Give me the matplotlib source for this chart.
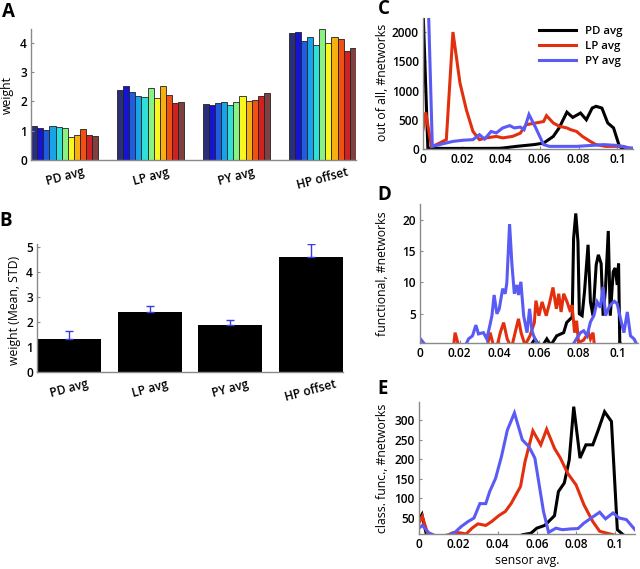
import matplotlib
matplotlib.use("Agg")
import matplotlib.pyplot as plt
import numpy as np

plt.rcParams['font.family'] = ['Open Sans', 'DejaVu Sans']

# ---------------- data ----------------
groups = ["PD avg", "LP avg", "PY avg", "HP offset"]
A_PD = [1.15, 1.09, 1.02, 1.16, 1.13, 1.09, 0.80, 0.85, 1.05, 0.84, 0.82]
A_LP = [2.40, 2.51, 2.31, 2.18, 2.15, 2.46, 2.10, 2.51, 2.22, 1.93, 1.97]
A_PY = [1.92, 1.87, 1.94, 1.96, 1.87, 1.99, 2.19, 2.01, 2.03, 2.18, 2.27]
A_HP = [4.33, 4.37, 4.06, 4.19, 3.93, 4.47, 3.98, 4.20, 4.13, 3.70, 3.81]
bar_colors = ['#2b2f7a', '#1414d2', '#1e5ce0', '#18a2e8', '#30e0d8', '#8af283',
              '#f8f820', '#f8b010', '#f05010', '#d02020', '#804040']

B_mean = [1.32, 2.40, 1.88, 4.60]
B_std = [0.33, 0.24, 0.20, 0.50]

C_PD_x = [0, 0.0025, 0.01, 0.02, 0.03, 0.04, 0.048, 0.057, 0.062, 0.067, 0.070, 0.074,
          0.077, 0.081, 0.084, 0.087, 0.089, 0.092, 0.095, 0.098, 0.101, 0.103]
C_PD_y = [2400, 15, 10, 10, 10, 12, 45, 75, 100, 215, 360, 630, 540, 615, 500, 700,
          730, 700, 445, 360, 45, 0]
C_LP_x = [0, 0.0014, 0.0043, 0.0069, 0.012, 0.0154, 0.019, 0.0223, 0.0257, 0.029, 0.0326,
          0.0377, 0.041, 0.046, 0.050, 0.053, 0.058, 0.062, 0.0635, 0.067, 0.070, 0.074,
          0.076, 0.079, 0.082, 0.086, 0.089, 0.094, 0.103, 0.107]
C_LP_y = [330, 627, 45, 74, 160, 2000, 1130, 670, 300, 160, 190, 215, 190, 215, 270, 415,
          445, 470, 570, 445, 390, 360, 330, 300, 215, 130, 75, 45, 45, 0]
C_PY_x = [0, 0.0028, 0.0048, 0.0103, 0.0154, 0.0206, 0.0257, 0.029, 0.0317, 0.035, 0.0377,
          0.041, 0.0446, 0.047, 0.050, 0.052, 0.0545, 0.058, 0.062, 0.065, 0.079, 0.093,
          0.100, 0.106, 0.110]
C_PY_y = [2400, 2400, 45, 90, 130, 150, 160, 245, 170, 300, 275, 360, 400, 360, 375, 330,
          590, 360, 75, 45, 45, 75, 60, 20, 15]

D_PD_x = [0.056, 0.058, 0.060, 0.062, 0.064, 0.066, 0.069, 0.0725, 0.074, 0.0768, 0.0775,
          0.0786, 0.0797, 0.0804, 0.0818, 0.083, 0.0848, 0.086, 0.0873, 0.0889, 0.090,
          0.0914, 0.0924, 0.0936, 0.095, 0.096, 0.0975, 0.0985, 0.0995, 0.1002, 0.1008, 0.102]
D_PD_y = [0, 1, 0, 0, 1, 0, 1.5, 2, 3.6, 4.5, 17, 21, 16.5, 5, 4.7, 8.5, 16, 6.9, 4.7,
          12.8, 14.4, 13, 4.7, 9, 18.2, 4.7, 11.7, 12.3, 9.6, 13, 0.4, 0]
D_LP_x = [0.0170, 0.0177, 0.0194, 0.0340, 0.0354, 0.037, 0.0390, 0.0405, 0.0422, 0.044,
          0.0455, 0.0465, 0.048, 0.0497, 0.051, 0.053, 0.0555, 0.0577, 0.0585, 0.060,
          0.0616, 0.0637, 0.0655, 0.0671, 0.0688, 0.070, 0.0712, 0.0725, 0.0742, 0.0759,
          0.0767, 0.078, 0.079, 0.080, 0.0825, 0.085, 0.086, 0.0873, 0.088]
D_LP_y = [0, 2, 0, 0, 2, 0, 0, 2, 3.6, 1, 0, 0, 2, 4.2, 2, 0, 1.5, 3.6, 7.1, 4.7, 6.9,
          4.7, 6.9, 9.2, 5.8, 8.2, 5.3, 8.2, 6.9, 5.3, 6.4, 2, 3.9, 0.4, 0.8, 2, 1, 2, 0]
D_PY_x = [0, 0.0017, 0.0030, 0.0230, 0.0245, 0.0265, 0.0282, 0.0295, 0.032, 0.0337, 0.035,
          0.0363, 0.0374, 0.0388, 0.040, 0.0417, 0.043, 0.0438, 0.0452, 0.0464, 0.0476,
          0.0489, 0.0497, 0.0509, 0.0523, 0.054, 0.0553, 0.0565, 0.0577, 0.059, 0.0600,
          0.0770, 0.0793, 0.081, 0.0826, 0.0843, 0.086, 0.0877, 0.0894, 0.091, 0.0924,
          0.0936, 0.0953, 0.0966, 0.0981, 0.0995, 0.1012, 0.1029, 0.1046, 0.1062, 0.108,
          0.1096]
D_PY_y = [1.1, 0.4, 0, 0, 1, 1.5, 3.2, 1.8, 2, 1, 2.8, 4.7, 8, 5, 5.8, 9, 8.2, 9.9, 19.3,
          12.8, 8.2, 9.6, 8, 10.1, 4.7, 2, 5.8, 2.3, 1.2, 0.4, 0, 0, 1.2, 2, 2.3, 1.5, 3.7,
          4.7, 6.9, 6, 9.3, 4.7, 6, 6.6, 7, 6.6, 4.2, 2, 5.3, 1.5, 1, 0]

E_PD_x = [0, 0.0015, 0.0038, 0.010, 0.050, 0.0526, 0.057, 0.060, 0.064, 0.066, 0.069,
          0.071, 0.074, 0.0765, 0.0788, 0.082, 0.085, 0.0885, 0.091, 0.0945, 0.098, 0.101,
          0.104, 0.106]
E_PD_y = [45, 58, 6, 0, 0, 6, 10, 23, 30, 40, 55, 117, 139, 198, 335, 203, 237, 237, 271,
          322, 297, 19, 6, 0]
E_LP_x = [0, 0.0017, 0.0046, 0.010, 0.015, 0.0175, 0.0209, 0.024, 0.027, 0.030, 0.034,
          0.037, 0.0406, 0.044, 0.047, 0.0517, 0.054, 0.058, 0.062, 0.065, 0.069, 0.072,
          0.0757, 0.080, 0.084, 0.0885, 0.092, 0.095, 0.099, 0.102]
E_LP_y = [36, 53, 6, 0, 6, 12, 11, 8, 23, 34, 30, 40, 55, 66, 87, 130, 194, 273, 237, 277,
          228, 203, 164, 134, 83, 40, 15, 11, 6, 0]
E_PY_x = [0, 0.0017, 0.005, 0.010, 0.0157, 0.018, 0.0217, 0.025, 0.028, 0.031, 0.034,
          0.036, 0.039, 0.042, 0.045, 0.0486, 0.0526, 0.056, 0.059, 0.0616, 0.0634, 0.066,
          0.0697, 0.073, 0.077, 0.081, 0.084, 0.0877, 0.092, 0.095, 0.0988, 0.102, 0.1056,
          0.110]
E_PY_y = [23, 30, 11, 0, 6, 11, 28, 40, 49, 86, 86, 117, 151, 207, 275, 319, 250, 232, 203,
          122, 66, 12, 23, 19, 21, 22, 36, 49, 64, 47, 62, 49, 45, 19]

series_names = ["PD avg", "LP avg", "PY avg"]
line_colors = ['black', '#e2300e', '#5a5af5']
x_ticks = [0, 0.02, 0.04, 0.06, 0.08, 0.1]
x_ticklabels = ['0', '0.02', '0.04', '0.06', '0.08', '0.1']

# ---------------- figure ----------------
W, H = 640, 569
fig = plt.figure(figsize=(W / 100, H / 100), dpi=100)


def add_ax(x0, y0, x1, y1):
    return fig.add_axes([x0 / W, 1 - y1 / H, (x1 - x0) / W, (y1 - y0) / H])


spine_col = '#8a8a8a'
tick_fs = 8.6
lab_fs = 8.8


def style(ax):
    for s in ['top', 'right']:
        ax.spines[s].set_visible(False)
    for s in ['left', 'bottom']:
        ax.spines[s].set_color(spine_col)
        ax.spines[s].set_linewidth(1.0)
    ax.tick_params(direction='in', length=2, color=spine_col, labelsize=tick_fs, pad=3)
    for t in ax.get_xticklabels() + ax.get_yticklabels():
        t.set_fontweight('semibold')


# Panel A
axA = add_ax(31, 29, 356, 160)
nb = len(A_PD)
period = nb + 3
for g, vals in enumerate([A_PD, A_LP, A_PY, A_HP]):
    xs = [g * period + i for i in range(nb)]
    axA.bar(xs, vals, width=1.0, color=bar_colors, edgecolor='#222222', linewidth=0.6)
axA.set_xlim(-0.5, 3 * period + nb - 0.5)
axA.set_ylim(0, 4.46)
axA.set_yticks([0, 1, 2, 3, 4])
axA.set_xticks([g * period + (nb - 1) / 2 for g in range(4)])
axA.set_xticklabels(groups, rotation=15)
style(axA)
axA.tick_params(axis='x', length=0, pad=4)
fig.text(7 / W, 1 - 95 / H, "weight", rotation=90, ha='center', va='center', fontsize=lab_fs)

# Panel B
axB = add_ax(37, 244, 343, 372)
xb = np.arange(1, 5)
axB.bar(xb, B_mean, width=0.8, color='black', zorder=2)
axB.errorbar(xb, B_mean, yerr=[np.zeros(4), B_std], fmt='none', ecolor='#3a3ae6',
             elinewidth=1, capsize=3, capthick=1, zorder=3)
axB.set_xlim(0.6, 4.4)
axB.set_ylim(0, 5.1)
axB.set_yticks([0, 1, 2, 3, 4, 5])
axB.set_xticks(xb)
axB.set_xticklabels(groups, rotation=15)
style(axB)
axB.tick_params(axis='x', length=0, pad=4)
fig.text(15 / W, 1 - 310 / H, "weight (Mean, STD)", rotation=90, ha='center', va='center',
         fontsize=lab_fs)


def line_panel(ax, xs, ys, ylim, yticks, ylabel, ylab_y):
    for x, y, c, n in zip(xs, ys, line_colors, series_names):
        ax.plot(x, y, color=c, lw=2.2, label=n, solid_joinstyle='miter')
    ax.set_ylim(*ylim)
    ax.set_yticks(yticks)
    ax.set_xticks(x_ticks)
    ax.set_xticklabels(x_ticklabels)
    style(ax)
    fig.text(383 / W, 1 - ylab_y / H, ylabel, rotation=90, ha='center', va='center',
             fontsize=lab_fs)


axC = add_ax(423, 18, 633, 149)
line_panel(axC, [C_PD_x, C_LP_x, C_PY_x], [C_PD_y, C_LP_y, C_PY_y], (0, 2240),
           [0, 500, 1000, 1500, 2000], "out of all, #networks", 82)
axC.set_xlim(0, 0.108)
leg = axC.legend(loc='upper right', bbox_to_anchor=(0.97, 0.97), frameon=False,
                 fontsize=8.2, handlelength=3.2, labelspacing=0.35, handletextpad=0.8,
                 borderaxespad=0)
for t in leg.get_texts():
    t.set_fontweight('semibold')

axD = add_ax(420, 204, 638, 343)
line_panel(axD, [D_PD_x, D_LP_x, D_PY_x], [D_PD_y, D_LP_y, D_PY_y], (0.35, 22.5),
           [5, 10, 15, 20], "functional, #networks", 274)
axD.set_xlim(0, 0.11)

axE = add_ax(419, 402, 635, 534)
line_panel(axE, [E_PD_x, E_LP_x, E_PY_x], [E_PD_y, E_LP_y, E_PY_y], (8, 347),
           [50, 100, 150, 200, 250, 300], "class. func., #networks", 468)
axE.set_xlim(0, 0.11)
axE.set_xlabel("sensor avg.", fontsize=lab_fs, labelpad=2)

for letter, (px, py) in zip("ABCDE", [(8, 12), (6, 221), (384, 9), (384, 195), (383, 389)]):
    fig.text(px / W, 1 - py / H, letter, fontsize=13.5, fontweight='bold', ha='center',
             va='center')

fig.savefig("out.png", dpi=100)
